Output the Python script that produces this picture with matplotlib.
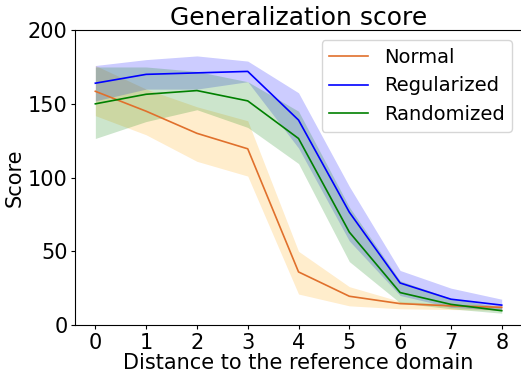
import numpy as np
import matplotlib
matplotlib.use("Agg")
import matplotlib.pyplot as plt

# distance to the reference domain
dist = [0, 1, 2, 3, 4, 5, 6, 7, 8]

normal = [158.5, 145, 130, 119.5, 36, 19.5, 14.5, 13, 12]
normal_hi = [176, 160, 148, 138.5, 50, 26, 16, 14, 13.5]
normal_lo = [142, 129, 111, 101, 21, 13, 11, 10.5, 10]

regul = [164, 170, 171, 172, 139, 76.5, 28.5, 17.5, 13.5]
regul_hi = [176, 180, 182.5, 179, 157.5, 94, 37, 25, 17.5]
regul_lo = [152, 160, 160, 165, 120, 57, 20, 12, 10]

rand = [150, 156.5, 159, 152, 126.5, 63, 22, 14, 9.7]
rand_hi = [175, 175, 172, 165, 145, 80, 30, 18, 12]
rand_lo = [126.5, 138, 146, 134, 109.5, 43, 15, 11, 8]

fig = plt.figure(figsize=(5.21, 3.7), dpi=100)
ax = fig.add_axes([0.144, 0.1216, 0.858, 0.797])

ax.fill_between(dist, normal_lo, normal_hi, color="orange", alpha=0.2, linewidth=0)
ax.plot(dist, normal, color="#e0702c", lw=1.2, label="Normal")
ax.fill_between(dist, regul_lo, regul_hi, color="blue", alpha=0.2, linewidth=0)
ax.plot(dist, regul, color="blue", lw=1.2, label="Regularized")
ax.fill_between(dist, rand_lo, rand_hi, color="green", alpha=0.2, linewidth=0)
ax.plot(dist, rand, color="green", lw=1.2, label="Randomized")

ax.set_ylim(0, 200)
ax.set_xticks(dist)
ax.set_yticks([0, 50, 100, 150, 200])
ax.tick_params(labelsize=15, length=3, pad=2.5)
ax.set_title("Generalization score", fontsize=18, pad=3)
ax.set_xlabel("Distance to the reference domain", fontsize=15, labelpad=0)
ax.set_ylabel("Score", fontsize=15, labelpad=2)
ax.legend(loc="upper right", fontsize=14)

fig.savefig("out.png", dpi=100)
